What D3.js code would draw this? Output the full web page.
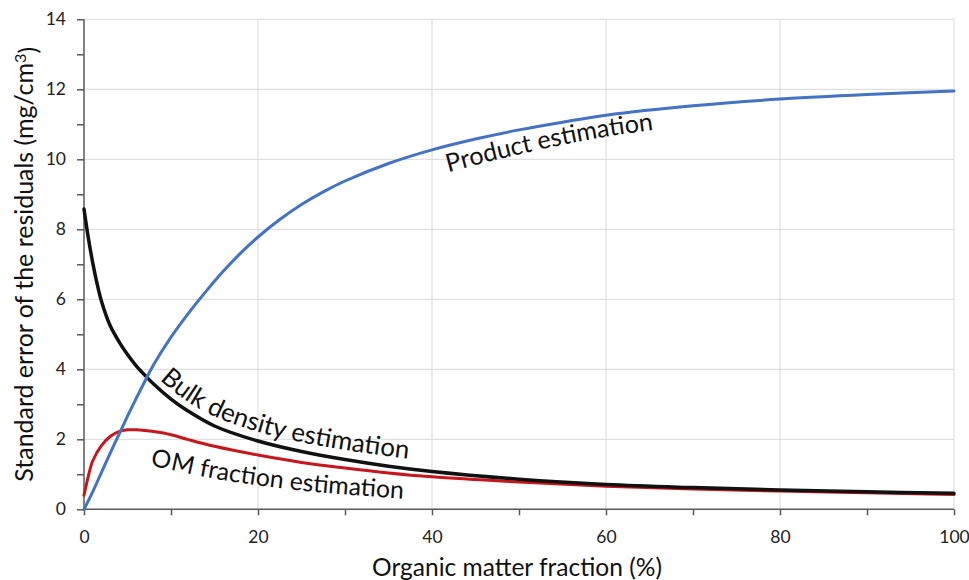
<!DOCTYPE html>
<html>
<head>
<meta charset="utf-8">
<script src="https://cdn.jsdelivr.net/npm/d3@7"></script>
<style>
  html, body { margin: 0; padding: 0; background: #ffffff; }
  svg { display: block; font-family: Lato, "Open Sans", sans-serif; }
</style>
</head>
<body>
<svg id="chart" width="969" height="580"></svg>
<script>
// ---------------- data ----------------
const productX = [0, 1, 2, 3, 4, 5, 6, 7, 8, 10, 12, 14, 16, 18, 20, 22.5, 25, 27.5, 30, 35, 40, 45, 50, 55, 60, 70, 80, 90, 100];
const productY = [0, 0.5, 1.05, 1.6, 2.13, 2.66, 3.17, 3.66, 4.13, 4.92, 5.6, 6.22, 6.8, 7.32, 7.78, 8.28, 8.71, 9.07, 9.38, 9.88, 10.27, 10.58, 10.84, 11.06, 11.26, 11.53, 11.72, 11.85, 11.95];

const bulkX = [0, 0.5, 1, 1.5, 2, 3, 4, 5, 6, 7, 8, 10, 12, 15, 20, 25, 30, 35, 40, 50, 60, 70, 80, 90, 100];
const bulkY = [8.58, 7.75, 7.05, 6.45, 5.95, 5.25, 4.8, 4.42, 4.1, 3.83, 3.58, 3.15, 2.8, 2.38, 1.95, 1.65, 1.42, 1.23, 1.08, 0.86, 0.71, 0.62, 0.55, 0.5, 0.46];

const omX = [0, 0.5, 1, 2, 3, 4, 5, 6, 7, 8, 10, 12, 15, 20, 25, 30, 35, 40, 50, 60, 70, 80, 90, 100];
const omY = [0.4, 0.95, 1.38, 1.82, 2.08, 2.22, 2.27, 2.27, 2.25, 2.22, 2.13, 1.99, 1.8, 1.55, 1.34, 1.18, 1.04, 0.93, 0.78, 0.66, 0.58, 0.52, 0.47, 0.42];

const xTickValues = [0, 10, 20, 30, 40, 50, 60, 70, 80, 90, 100];
const xTickLabels = ["0", "", "20", "", "40", "", "60", "", "80", "", "100"];
const yTickValues = [0, 1, 2, 3, 4, 5, 6, 7, 8, 9, 10, 11, 12, 13, 14];
const yTickLabels = ["0", "", "2", "", "4", "", "6", "", "8", "", "10", "", "12", "", "14"];

const seriesNames = ["Product estimation", "Bulk density estimation", "OM fraction estimation"];
const xTitle = "Organic matter fraction (%)";
const yTitle = "Standard error of the residuals (mg/cm";

// ---------------- layout ----------------
const W = 969, H = 580;
const plot = { left: 84, right: 954, top: 19.3, bottom: 509.3 };

const x = d3.scaleLinear().domain([0, 100]).range([plot.left, plot.right]);
const y = d3.scaleLinear().domain([0, 14]).range([plot.bottom, plot.top]);

const svg = d3.select("#chart");
svg.append("rect").attr("width", W).attr("height", H).attr("fill", "#ffffff");

// gridlines
const grid = svg.append("g").attr("stroke", "#d9d9d9").attr("stroke-width", 1);
grid.selectAll("line.h").data(yTickValues.filter(v => v > 0 && v % 2 === 0)).join("line")
  .attr("x1", plot.left).attr("x2", plot.right)
  .attr("y1", d => y(d)).attr("y2", d => y(d));
grid.selectAll("line.v").data(xTickValues.filter(v => v > 0 && v % 20 === 0)).join("line")
  .attr("y1", plot.top).attr("y2", plot.bottom)
  .attr("x1", d => x(d)).attr("x2", d => x(d));

// axes
const axisColor = "#595959";
const yAxis = d3.axisLeft(y).tickValues(yTickValues)
  .tickFormat((d, i) => yTickLabels[i]).tickSize(7).tickPadding(11);
const gy = svg.append("g").attr("transform", `translate(${plot.left},0)`).call(yAxis);
const xAxis = d3.axisBottom(x).tickValues(xTickValues)
  .tickFormat((d, i) => xTickLabels[i]).tickSize(6).tickPadding(15);
const gx = svg.append("g").attr("transform", `translate(0,${plot.bottom})`).call(xAxis);

[gx, gy].forEach(g => {
  g.select(".domain").attr("stroke", axisColor).attr("stroke-width", 1.5);
  g.selectAll(".tick line").attr("stroke", axisColor).attr("stroke-width", 1.5);
  g.selectAll(".tick text").attr("fill", "#222").style("font-size", "17.5px").style("font-family", "Lato, sans-serif");
});
gy.select(".domain").attr("d", `M0,${plot.bottom}V${plot.top}`);
gx.select(".domain").attr("d", `M${plot.left},0H${plot.right}`);

// fit helper: scale font size so that a text's length matches a target
function fitSize(sel, base, target) {
  sel.style("font-size", base + "px");
  const len = sel.node().getComputedTextLength();
  const s = Math.max(base * 0.85, Math.min(base * 1.2, base * target / len));
  sel.style("font-size", s + "px");
  return s;
}

// axis titles
const xt = svg.append("text")
  .attr("x", (plot.left + plot.right) / 2 - 2).attr("y", 576)
  .attr("text-anchor", "middle").attr("fill", "#111").text(xTitle);
fitSize(xt, 22, 290);

const yt = svg.append("text")
  .attr("transform", `translate(33,${(plot.top + plot.bottom) / 2}) rotate(-90)`)
  .attr("text-anchor", "middle").attr("fill", "#111");
yt.append("tspan").text(yTitle);
yt.append("tspan").attr("dy", "-0.45em").style("font-size", "0.65em").text("3");
yt.append("tspan").attr("dy", "0.45em").text(")");
fitSize(yt, 22, 435);

// series lines
const series = [
  { name: seriesNames[0], xs: productX, ys: productY, color: "#4472c4", width: 3 },
  { name: seriesNames[1], xs: bulkX, ys: bulkY, color: "#111111", width: 3.5 },
  { name: seriesNames[2], xs: omX, ys: omY, color: "#c8161d", width: 3 }
];
const line = d3.line().x(d => x(d[0])).y(d => y(d[1])).curve(d3.curveCatmullRom.alpha(0.5));
series.forEach(s => {
  s.pts = s.xs.map((v, i) => [v, s.ys[i]]);
});
// draw order: red, black, blue
[series[2], series[1], series[0]].forEach(s => {
  svg.append("path").attr("d", line(s.pts)).attr("fill", "none")
    .attr("stroke", s.color).attr("stroke-width", s.width)
    .attr("stroke-linejoin", "round").attr("stroke-linecap", "round");
});

// curved labels following curves
const labelCfg = [
  { s: series[0], from: 41.9, to: 65.5, d0: 26, d1: 19 },
  { s: series[1], from: 8.7, to: 37.3, d0: -7, d1: -10 },
  { s: series[2], from: 7.6, to: 36.7, d0: 35, d1: 24 }
];
const defs = svg.append("defs");
labelCfg.forEach((c, k) => {
  const px0 = x(c.from), px1 = x(c.to);
  const pts = c.s.pts.map(d => [x(d[0]), y(d[1])]);
  const idx = pts.map((p, i) => i).filter(i => pts[i][0] >= px0 - 45 && pts[i][0] <= px1 + 60);
  const off = idx.map(i => {
    const a = pts[Math.max(0, i - 1)], b = pts[Math.min(pts.length - 1, i + 1)];
    let dx = b[0] - a[0], dy = b[1] - a[1];
    const L = Math.hypot(dx, dy); dx /= L; dy /= L;
    const t = Math.max(0, Math.min(1, (pts[i][0] - px0) / (px1 - px0)));
    const dist = c.d0 + (c.d1 - c.d0) * t;
    return [pts[i][0] - dy * dist, pts[i][1] + dx * dist];
  });
  const id = "lp" + k;
  const p = defs.append("path").attr("id", id)
    .attr("d", d3.line().curve(d3.curveBasis)(off));
  const node = p.node();
  const total = node.getTotalLength();
  const findLen = px => {
    let lo = 0, hi = total;
    for (let j = 0; j < 40; j++) {
      const m = (lo + hi) / 2;
      if (node.getPointAtLength(m).x < px) lo = m; else hi = m;
    }
    return lo;
  };
  const l0 = findLen(px0), l1 = findLen(px1);
  const txt = svg.append("text").attr("fill", "#111");
  txt.append("textPath").attr("href", "#" + id).attr("startOffset", l0).text(c.s.name);
  fitSize(txt, 22, l1 - l0);
});
</script>
</body>
</html>
